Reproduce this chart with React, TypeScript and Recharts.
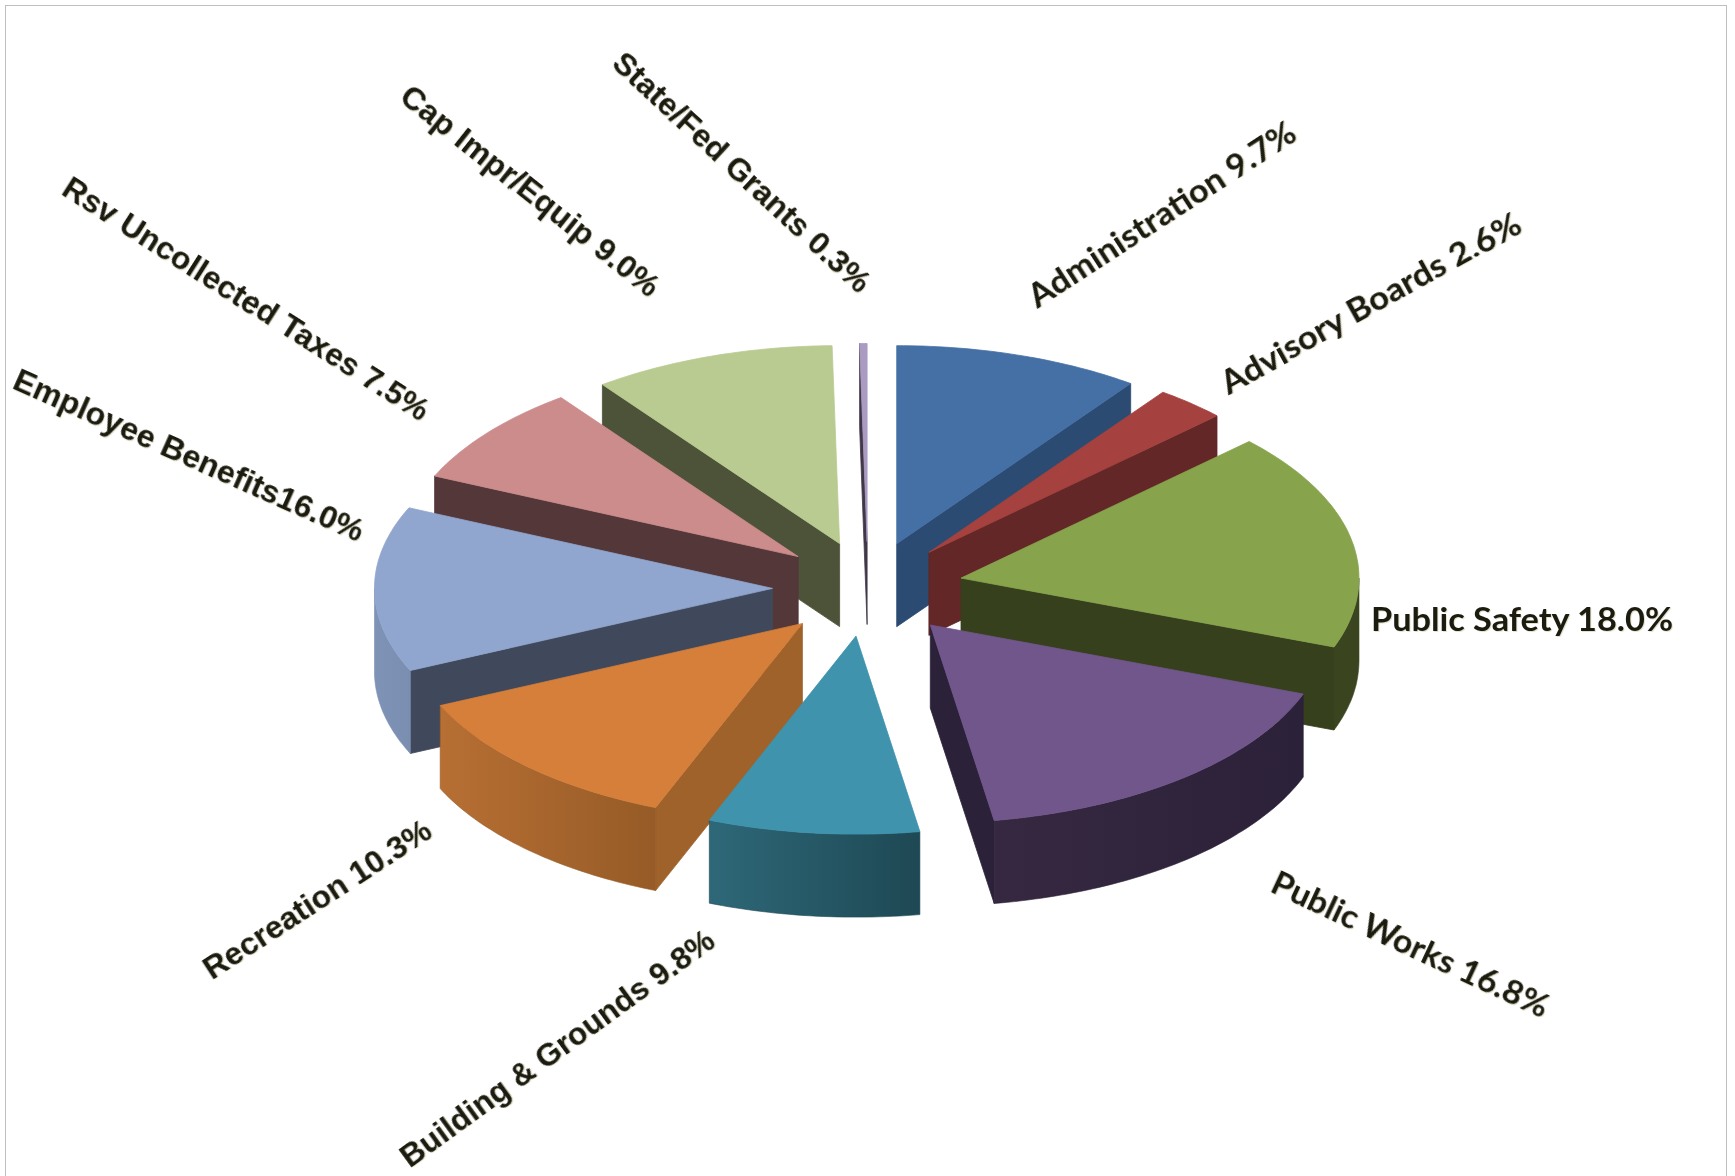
import { Pie, PieChart } from 'recharts'

const categories = [
  'Administration',
  'Advisory Boards',
  'Public Safety',
  'Public Works',
  'Building & Grounds',
  'Recreation',
  'Employee Benefits',
  'Rsv Uncollected Taxes',
  'Cap Impr/Equip',
  'State/Fed Grants',
]
const shares = [9.7, 2.6, 18.0, 16.8, 9.8, 10.3, 16.0, 7.5, 9.0, 0.3]

// slices are painted back to front so nearer walls hide the farther ones
const paintOrder = [
  'State/Fed Grants',
  'Cap Impr/Equip',
  'Rsv Uncollected Taxes',
  'Employee Benefits',
  'Recreation',
  'Administration',
  'Advisory Boards',
  'Public Safety',
  'Public Works',
  'Building & Grounds',
]

const topColors = ['#4570A5', '#A5423F', '#87A44C', '#71568B', '#3F93AD', '#D67F3A', '#90A6CE', '#CD8C8C', '#B9CB91', '#A99BC1']
const wallColors = ['#2B4B72', '#622726', '#37401D', '#2B2138', '#2E6878', '#9F622B', '#40495C', '#533739', '#4C5339', '#403748']
const rimLeft = ['#2B4B72', '#622726', '#3A4520', '#372842', '#2E6878', '#B76F33', '#7F93B7', '#533739', '#4C5339', '#403748']
const rimRight = ['#2B4B72', '#622726', '#3A4520', '#2B2138', '#1E4854', '#965B27', '#7A8EB2', '#533739', '#4C5339', '#403748']

// perspective lens: degrees each slice's trailing edge bends on the tilted disc
const edgeBend = [1.1, 2.1, 1.3, 1.2, -3.2, 3.6, -5.5, -3.1, 0, 0]

// label layout: centre, rotation and run length of each rotated caption
const labelCentres = [
  [1161, 213], [1370, 302], [1522, 618], [1411, 943], [557, 1048],
  [317, 899], [189, 455], [246, 299], [530, 191], [742, 172],
]
const labelAngles = [-33, -29, 0, 25, -36, -33, 24, 32.5, 38.5, 42.7]
const labelLengths = [312, 338, 302, 302, 380, 265, 380, 427, 320, 338]
const calibriLike = ['Administration', 'Advisory Boards', 'Public Safety', 'Public Works']
const tightLabels = ['Employee Benefits']

const WIDTH = 1735
const HEIGHT = 1176
const CX = 868
const CY = 589
const RADIUS = 398
const TILT = 0.4975 // vertical squash of the disc
const EXPLODE = 0.24
const DEPTH = 83

const slices = categories.map((name, i) => ({ name, value: shares[i] }))

const rad = (deg: number) => (deg * Math.PI) / 180

function Wedge3D(props: any) {
  const { cx, cy, outerRadius, startAngle, endAngle, index } = props
  // recharts angles run counter-clockwise from 3 o'clock, the disc is easier clockwise from 12
  const clockFrom = 90 - startAngle
  const clockTo = 90 - endAngle
  const from = clockFrom + (index > 0 ? edgeBend[index - 1] : 0)
  const to = clockTo + edgeBend[index]
  const mid = (clockFrom + clockTo) / 2
  const ax = cx + outerRadius * EXPLODE * Math.sin(rad(mid))
  const ay = cy - outerRadius * TILT * EXPLODE * Math.cos(rad(mid))

  const rimPoint = (deg: number) => [
    ax + outerRadius * Math.sin(rad(deg)),
    ay - outerRadius * TILT * Math.cos(rad(deg)),
  ]
  const arc = (a: number, b: number) => {
    const pts = []
    const steps = Math.max(2, Math.ceil(b - a))
    for (let i = 0; i <= steps; i++) pts.push(rimPoint(a + ((b - a) * i) / steps))
    return pts
  }
  const toPath = (pts: number[][]) => 'M' + pts.map((p) => `${p[0].toFixed(1)},${p[1].toFixed(1)}`).join('L') + 'Z'
  const drop = (pts: number[][]) => pts.map((p) => [p[0], p[1] + DEPTH])

  const S = rimPoint(from)
  const E = rimPoint(to)
  const A = [ax, ay]
  const wall = wallColors[index]
  const gradId = `rim-${index}`

  const rimFrom = Math.max(from, 90)
  const rimTo = Math.min(to, 270)
  const hasRim = rimTo > rimFrom

  return (
    <g>
      <defs>
        <linearGradient id={gradId} x1="0" x2="1" y1="0" y2="0">
          <stop offset="0%" stopColor={rimLeft[index]} />
          <stop offset="100%" stopColor={rimRight[index]} />
        </linearGradient>
      </defs>
      {S[0] < ax - 0.5 && (
        <path d={toPath([A, S, ...drop([S, A])])} fill={wall} stroke={wall} strokeWidth={0.8} />
      )}
      {E[0] > ax + 0.5 && (
        <path d={toPath([E, A, ...drop([A, E])])} fill={wall} stroke={wall} strokeWidth={0.8} />
      )}
      {hasRim && (
        <path
          d={toPath([...arc(rimFrom, rimTo), ...drop(arc(rimFrom, rimTo)).reverse()])}
          fill={`url(#${gradId})`}
          stroke={rimRight[index]}
          strokeWidth={0.6}
        />
      )}
      <path d={toPath([A, ...arc(from, to)])} fill={topColors[index]} stroke={topColors[index]} strokeWidth={0.8} />
    </g>
  )
}

function SliceLabel(props: any) {
  const { index, name, value } = props
  const [x, y] = labelCentres[index]
  const gap = tightLabels.includes(name) ? '' : ' '
  const calibri = calibriLike.includes(name)
  return (
    <text
      x={x}
      y={y}
      transform={`rotate(${labelAngles[index]} ${x} ${y})`}
      textAnchor="middle"
      dominantBaseline="central"
      textLength={labelLengths[index]}
      lengthAdjust="spacingAndGlyphs"
      fontFamily={calibri ? 'Lato, sans-serif' : '"Liberation Sans", Arial, sans-serif'}
      fontWeight={700}
      fontSize={calibri ? 32 : 31}
      fill="#1B1B10"
      style={{ filter: 'drop-shadow(1.5px 1.5px 0.5px #E4E1CC)' }}
    >
      {`${name}${gap}${Number(value).toFixed(1)}%`}
    </text>
  )
}

export default function App() {
  return (
    <div style={{ position: 'absolute', left: 0, top: 0, width: WIDTH, height: HEIGHT, background: '#fff', overflow: 'hidden' }}>
      <div
        style={{
          position: 'absolute',
          left: 5,
          top: 5,
          width: 1722,
          height: HEIGHT,
          border: '1px solid #BFBFBF',
          boxSizing: 'border-box',
        }}
      />
      <div style={{ position: 'absolute', left: 0, top: 0 }}>
        <PieChart width={WIDTH} height={HEIGHT} margin={{ top: 0, right: 0, bottom: 0, left: 0 }}>
          {paintOrder.map((layer, i) => (
            <Pie
              key={layer}
              data={slices}
              dataKey="value"
              nameKey="name"
              cx={CX}
              cy={CY}
              innerRadius={0}
              outerRadius={RADIUS}
              startAngle={90}
              endAngle={-270}
              stroke="none"
              isAnimationActive={false}
              labelLine={false}
              label={i === paintOrder.length - 1 ? (p: any) => <SliceLabel {...p} /> : false}
              shape={(p: any) => (p.name === layer ? <Wedge3D {...p} /> : <g />)}
            />
          ))}
        </PieChart>
      </div>
    </div>
  )
}
